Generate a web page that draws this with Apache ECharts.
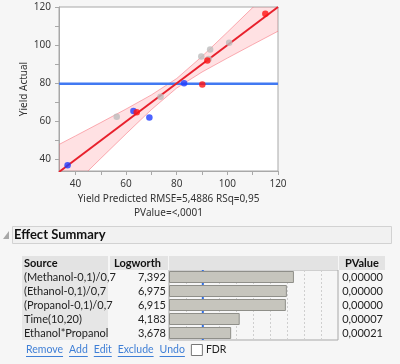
<!DOCTYPE html>
<html><head><meta charset="utf-8">
<script src="https://cdn.jsdelivr.net/npm/echarts@6/dist/echarts.min.js"></script>
<style>html,body{margin:0;padding:0;background:#f6f6f6;}#c{width:400px;height:364px;}</style>
</head><body><div id="c"></div>
<script>
const FONT = 'Lato, "Noto Sans", sans-serif';
const AFONT = '"Noto Sans", sans-serif';
// ---- scatter (Actual by Predicted) ----
const axisMin = 33.5, axisMax = 120;
const tickValues = [40, 50, 60, 70, 80, 90, 100, 110, 120];
const tickLabels = [40, 60, 80, 100, 120];
const blueX = [36.9, 62.9, 69.2, 82.9];
const blueY = [37.0, 65.4, 62.0, 80.0];
const redX = [64.2, 90.1, 92.1, 115.0];
const redY = [64.8, 79.3, 92.0, 116.4];
const greyX = [56.3, 73.6, 89.7, 93.2, 92.6, 100.7];
const greyY = [62.5, 72.9, 94.0, 97.7, 92.7, 101.2];
const fitX = [33.5, 120];
const fitY = [33.5, 120];
const meanY = 79.7;
const bandX = [33.5, 40, 50, 60, 70, 80, 90, 100, 110, 120];
const bandLo = [19.1, 27.6, 40.6, 53.5, 66.2, 77.5, 85.9, 93.2, 100.3, 107.3];
const bandHi = [47.9, 52.4, 59.4, 66.5, 73.9, 82.5, 94.1, 106.8, 119.7, 132.7];
const yName = 'Yield Actual';
const xName = 'Yield Predicted RMSE=5,4886 RSq=0,95\nPValue=<,0001';
// ---- effect summary ----
const sectionTitle = 'Effect Summary';
const headers = ['Source', 'Logworth', 'PValue'];
const sources = ['(Methanol-0,1)/0,7', '(Ethanol-0,1)/0,7', '(Propanol-0,1)/0,7', 'Time(10,20)', 'Ethanol*Propanol'];
const logworth = [7.392, 6.975, 6.915, 4.183, 3.678];
const pvalues = ['0,00000', '0,00000', '0,00000', '0,00007', '0,00021'];
const logworthRef = 2;
const logMax = 10;
const links = ['Remove', 'Add', 'Edit', 'Exclude', 'Undo'];
const fdrLabel = 'FDR';

const zip = (a, b) => a.map((v, i) => [v, b[i]]);
const logLabels = logworth.map(v => v.toFixed(3).replace('.', ','));

const chart = echarts.init(document.getElementById('c'), null, {renderer: 'canvas'});
const ctx = document.createElement('canvas').getContext('2d');
ctx.font = '10.5px Lato, "Noto Sans", sans-serif';
const graphics = [];
graphics.push({type: 'rect', shape: {x: 12.5, y: 226.5, width: 379, height: 17}, style: {fill: '#f1f1f1', stroke: '#d2d2d2', lineWidth: 1}, z: 0});
graphics.push({type: 'polygon', shape: {points: [[9, 231], [9, 239], [3, 239]]}, style: {fill: '#a8a8a8'}});
graphics.push({type: 'text', x: 14, y: 235, style: {text: sectionTitle, font: 'bold 13px ' + FONT, fill: '#111', verticalAlign: 'middle'}});
graphics.push({type: 'rect', shape: {x: 22, y: 256, width: 86, height: 14}, style: {fill: '#e3e3e3'}});
graphics.push({type: 'rect', shape: {x: 110, y: 256, width: 58, height: 14}, style: {fill: '#e3e3e3'}});
graphics.push({type: 'rect', shape: {x: 169, y: 256, width: 169, height: 14}, style: {fill: '#e3e3e3'}});
graphics.push({type: 'rect', shape: {x: 339, y: 256, width: 46, height: 14}, style: {fill: '#e3e3e3'}});
graphics.push({type: 'rect', shape: {x: 22, y: 270, width: 86, height: 70}, style: {fill: '#e6e6e6'}});
graphics.push({type: 'text', x: 24, y: 263, style: {text: headers[0], font: 'bold 11px ' + FONT, fill: '#111', verticalAlign: 'middle'}});
graphics.push({type: 'text', x: 114, y: 263, style: {text: headers[1], font: 'bold 11px ' + FONT, fill: '#111', verticalAlign: 'middle'}});
graphics.push({type: 'text', x: 345, y: 263, style: {text: headers[2], font: 'bold 11px ' + FONT, fill: '#111', verticalAlign: 'middle'}});
let lx = 26;
links.forEach(t => {
  const w = ctx.measureText(t).width;
  graphics.push({type: 'text', x: lx, y: 350, style: {text: t, font: '10.5px ' + FONT, fill: '#3f7fd6', verticalAlign: 'middle'}});
  graphics.push({type: 'line', shape: {x1: lx, y1: 356.5, x2: lx + w, y2: 356.5}, style: {stroke: '#3f7fd6', lineWidth: 1}});
  lx += w + 6;
});
graphics.push({type: 'rect', shape: {x: lx + 0.5, y: 344.5, width: 11, height: 11}, style: {fill: '#fff', stroke: '#777', lineWidth: 1}});
graphics.push({type: 'text', x: lx + 15, y: 350, style: {text: fdrLabel, font: '10.5px ' + FONT, fill: '#222', verticalAlign: 'middle'}});

const lbl = {fontFamily: AFONT, fontSize: 10, color: '#3a3a3a'};
const catLbl = {fontFamily: FONT, fontSize: 11, color: '#222', interval: 0};
chart.setOption({
  animation: false,
  backgroundColor: '#f6f6f6',
  textStyle: {fontFamily: FONT},
  grid: [
    {left: 59, top: 7, width: 219, height: 164, show: true, backgroundColor: '#ffffff', borderColor: '#a8a8a8', borderWidth: 1},
    {left: 169, top: 270, width: 169, height: 70, show: true, borderColor: '#a8a8a8', borderWidth: 1}
  ],
  xAxis: [
    {type: 'value', gridIndex: 0, min: axisMin, max: axisMax, name: xName, nameLocation: 'middle', nameGap: 21,
     nameMoveOverlap: false,
     nameTextStyle: {fontFamily: AFONT, fontSize: 10, color: '#333', lineHeight: 14},
     axisLine: {show: true, lineStyle: {color: '#a8a8a8'}},
     axisTick: {show: true, length: 4, customValues: tickValues, lineStyle: {color: '#a8a8a8'}},
     axisLabel: Object.assign({customValues: tickLabels, margin: 8}, lbl),
     splitLine: {show: false}},
    {type: 'value', gridIndex: 1, min: 0, max: logMax, interval: 1,
     axisLine: {show: false}, axisTick: {show: false}, axisLabel: {show: false},
     splitLine: {show: true, lineStyle: {color: '#cfcfcf', type: [2, 2]}}}
  ],
  yAxis: [
    {type: 'value', gridIndex: 0, min: 34, max: axisMax, name: yName, nameLocation: 'middle', nameGap: 30,
     nameMoveOverlap: false,
     nameTextStyle: {fontFamily: AFONT, fontSize: 10, color: '#333'},
     axisLine: {show: true, lineStyle: {color: '#a8a8a8'}},
     axisTick: {show: true, length: 4, customValues: tickValues, lineStyle: {color: '#a8a8a8'}},
     axisLabel: Object.assign({customValues: tickLabels, margin: 8}, lbl),
     splitLine: {show: false}},
    {type: 'category', gridIndex: 1, data: sources, inverse: true,
     axisLine: {show: false}, axisTick: {show: false},
     axisLabel: Object.assign({align: 'left', margin: 145}, catLbl)},
    {type: 'category', gridIndex: 1, data: logLabels, inverse: true, position: 'left',
     axisLine: {show: false}, axisTick: {show: false},
     axisLabel: Object.assign({margin: 3}, catLbl)},
    {type: 'category', gridIndex: 1, data: pvalues, inverse: true, position: 'right',
     axisLine: {show: false}, axisTick: {show: false},
     axisLabel: Object.assign({align: 'right', margin: 45}, catLbl)}
  ],
  series: [
    {type: 'custom', xAxisIndex: 0, yAxisIndex: 0, clip: true, z: 1, silent: true, data: [[axisMin, axisMin]],
     renderItem: (params, api) => {
       const up = bandX.map((x, i) => api.coord([x, bandHi[i]]));
       const lo = bandX.map((x, i) => api.coord([x, bandLo[i]]));
       return {type: 'group', children: [
         {type: 'polygon', shape: {points: up.concat(lo.slice().reverse())}, style: {fill: 'rgba(255,70,80,0.16)'}},
         {type: 'polyline', shape: {points: up}, style: {stroke: 'rgba(245,110,120,0.55)', lineWidth: 1, fill: null}},
         {type: 'polyline', shape: {points: lo}, style: {stroke: 'rgba(245,110,120,0.55)', lineWidth: 1, fill: null}}
       ]};
     }},
    {type: 'line', xAxisIndex: 0, yAxisIndex: 0, data: [[axisMin, meanY], [axisMax, meanY]], symbol: 'none',
     lineStyle: {color: '#4179f2', width: 2.5}, z: 2},
    {type: 'line', xAxisIndex: 0, yAxisIndex: 0, data: zip(fitX, fitY), symbol: 'none',
     lineStyle: {color: '#e8202c', width: 2}, z: 3},
    {type: 'scatter', xAxisIndex: 0, yAxisIndex: 0, data: zip(greyX, greyY), symbolSize: 6.5, itemStyle: {color: '#bdbdbd'}, z: 4},
    {type: 'scatter', xAxisIndex: 0, yAxisIndex: 0, data: zip(blueX, blueY), symbolSize: 6.5, itemStyle: {color: '#1f3cff'}, z: 5},
    {type: 'scatter', xAxisIndex: 0, yAxisIndex: 0, data: zip(redX, redY), symbolSize: 6.5, itemStyle: {color: '#ff1212'}, z: 5},
    {type: 'custom', xAxisIndex: 1, yAxisIndex: 1, z: 1, silent: true, data: [[logworthRef, 0]],
     renderItem: (params, api) => {
       const p = api.coord([api.value(0), 0]);
       const cs = params.coordSys;
       return {type: 'line', shape: {x1: p[0], y1: cs.y, x2: p[0], y2: cs.y + cs.height},
               style: {stroke: '#2f6fe6', lineWidth: 2}};
     }},
    {type: 'bar', xAxisIndex: 1, yAxisIndex: 1, data: logworth, barWidth: 12, z: 3,
     itemStyle: {color: '#c6c5bd', borderColor: '#8f8f89', borderWidth: 1}}
  ],
  graphic: graphics
});
</script></body></html>
